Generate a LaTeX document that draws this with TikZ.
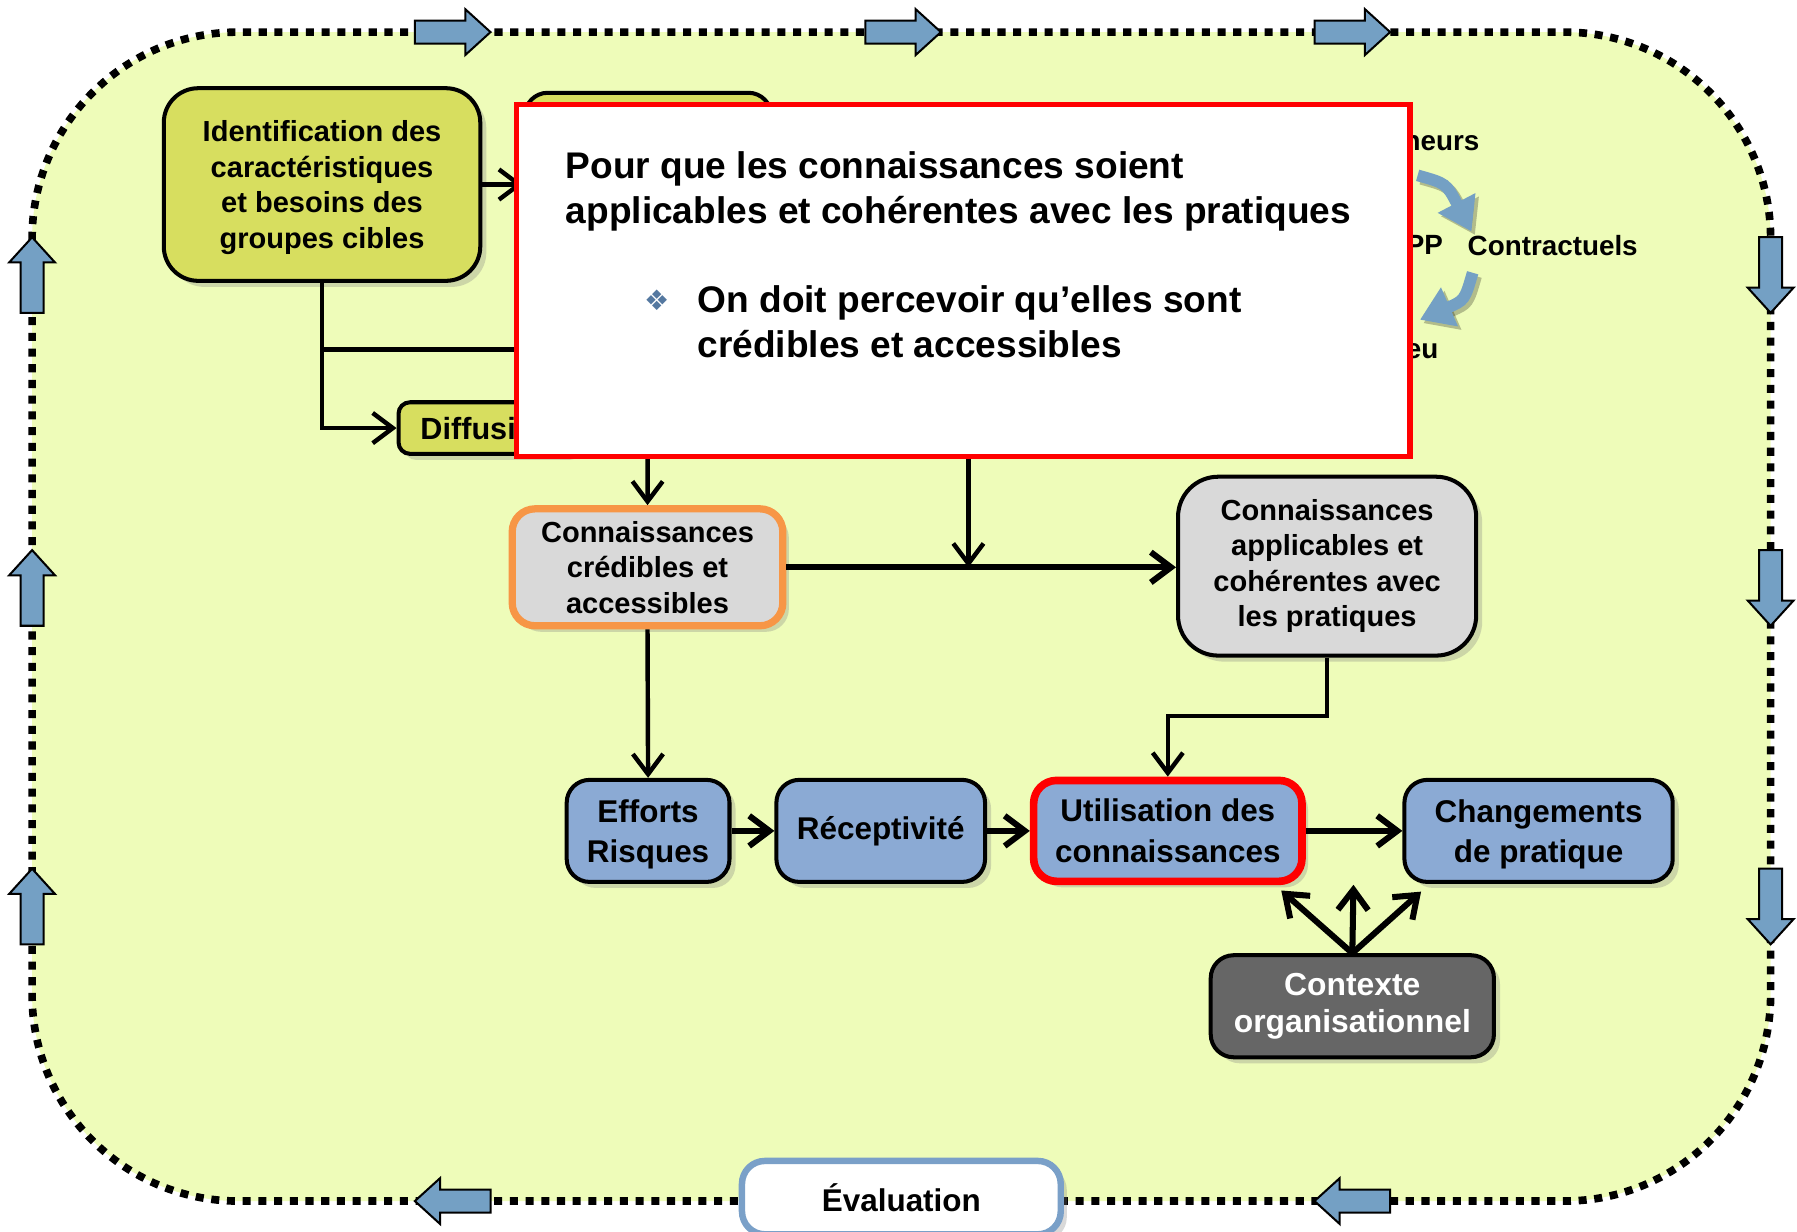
\documentclass[tikz,border=0pt]{standalone}
\usepackage{fontspec}
\setmainfont{Liberation Sans}
\newfontfamily\symfont{DejaVu Sans}
\usetikzlibrary{arrows.meta,shadows}
\definecolor{bgyellow}{RGB}{238,252,185}
\definecolor{identyellow}{RGB}{215,222,95}
\definecolor{boxblue}{RGB}{139,170,212}
\definecolor{arrowblue}{RGB}{116,160,196}
\definecolor{boxgray}{RGB}{217,217,217}
\definecolor{darkbox}{RGB}{102,102,102}
\definecolor{credorange}{RGB}{247,150,70}
\definecolor{evalblue}{RGB}{122,160,200}
\definecolor{bulletblue}{RGB}{84,120,160}
\tikzset{
  box/.style={draw=black, line width=1pt, rounded corners=0.2cm, align=center, inner sep=0pt,
    drop shadow={opacity=0.3, shadow xshift=1.5pt, shadow yshift=-1.5pt}},
  boxtext/.style={font=\bfseries\fontsize{7.2}{8.8}\selectfont},
  bigtext/.style={font=\bfseries\fontsize{7.8}{10}\selectfont},
  sidetext/.style={font=\bfseries\fontsize{6.9}{8}\selectfont, inner sep=0pt, anchor=west},
  poptext/.style={font=\bfseries\fontsize{9.2}{11.1}\selectfont, inner sep=0pt, anchor=west, align=left},
  line/.style={line width=1.1pt},
  conn/.style={line width=1.1pt, -{Straight Barb[length=5pt,width=7.5pt]}},
  conn2/.style={line width=1.5pt, -{Straight Barb[length=5pt,width=7.5pt]}},
  curvearrow/.style={line width=2.9pt, arrowblue, -{Triangle[length=8pt,width=10pt]}}
}
\begin{document}
\begin{tikzpicture}[x=0.01cm, y=-0.01cm]
\useasboundingbox (0,0) rectangle (1568,1075);
\filldraw[fill=bgyellow, draw=black, line width=1.9pt, dash pattern=on 2pt off 1.9pt, rounded corners=1.8cm] (28,28) rectangle (1545,1048);
\foreach \x/\y/\a in {395/28/0, 788/28/0, 1180/28/0, 1545/240/-90, 1545/513/-90, 1545/791/-90, 1180/1048/180, 395/1048/180, 28/240/90, 28/513/90, 28/791/90}
  \filldraw[fill=arrowblue, draw=black, line width=0.5pt, shift={(\x,\y)}, rotate=\a] (-33,-10) -- (11,-10) -- (11,-20) -- (33,0) -- (11,20) -- (11,10) -- (-33,10) -- cycle;

\node[sidetext] (neurs) at (1224,125) {neurs};
\node[sidetext] (pp) at (1226,214) {PP};
\node[sidetext] (contr) at (1280,214) {Contractuels};
\node[sidetext] (eu) at (1226,306) {eu};
\draw[curvearrow, black, opacity=0.25, shift={(3,3)}] (1237,153) .. controls (1262,160) .. (1284,202);
\draw[curvearrow, black, opacity=0.25, shift={(3,3)}] (1285,238) .. controls (1278,262) .. (1239,279);
\draw[curvearrow] (1237,153) .. controls (1262,160) .. (1284,202);
\draw[curvearrow] (1285,238) .. controls (1278,262) .. (1239,279);

\node[box, fill=identyellow, minimum width=2.15cm, minimum height=1.6cm] (hid2) at (565.5,161) {};
\node[box, fill=boxgray, minimum width=2.8cm, minimum height=0.7cm] (hid3) at (845,360) {};
\node[box, fill=identyellow, boxtext, minimum width=2.76cm, minimum height=1.68cm, rounded corners=0.3cm, text depth=0pt] (ident) at (281,161) {Identification des\\caractéristiques\\et besoins des\\groupes cibles};
\node[box, fill=identyellow, font=\bfseries\fontsize{7.6}{9}\selectfont, minimum width=1.54cm, minimum height=0.45cm, rounded corners=0.1cm, anchor=west] (diff) at (346,373.5) {Diffusion};
\node[box, fill=boxgray, draw=credorange, line width=1.8pt, boxtext, minimum width=2.36cm, minimum height=1.02cm] (cred) at (565,495) {Connaissances\\crédibles et\\accessibles};
\node[box, fill=boxgray, boxtext, minimum width=2.6cm, minimum height=1.56cm, rounded corners=0.35cm] (appl) at (1158,494) {Connaissances\\applicables et\\cohérentes avec\\les pratiques};
\node[box, fill=boxblue, bigtext, minimum width=1.42cm, minimum height=0.89cm, text depth=0pt] (effo) at (565.5,725) {Efforts\\Risques};
\node[box, fill=boxblue, bigtext, minimum width=1.82cm, minimum height=0.89cm] (recep) at (768.5,725) {Réceptivité};
\node[box, fill=boxblue, draw=red, line width=1.9pt, bigtext, minimum width=2.34cm, minimum height=0.88cm] (util) at (1019,725) {Utilisation des\\connaissances};
\node[box, fill=boxblue, bigtext, minimum width=2.34cm, minimum height=0.89cm, text depth=0pt] (chang) at (1342.5,725) {Changements\\de pratique};
\node[box, fill=darkbox, text=white, font=\bfseries\fontsize{7.9}{9.4}\selectfont, minimum width=2.47cm, minimum height=0.89cm] (ctx) at (1180,878) {Contexte\\organisationnel};
\node[box, fill=white, draw=evalblue, line width=1.6pt, bigtext, minimum width=2.78cm, minimum height=0.64cm] (eval) at (786.5,1045) {Évaluation};

\coordinate (branch) at (281,305);
\coordinate (ctxl) at (1118,777);
\coordinate (ctxm) at (1181,772);
\coordinate (ctxr) at (1240,778);
\draw[conn] (ident.east) -- (hid2.west);
\draw[conn] (ident.south) |- (diff.west);
\draw[line] (branch) -- ++(190,0);
\draw[conn] (hid2.south) -- (cred.north);
\draw[conn] (hid3.south) -- (hid3.south |- cred.east);
\draw[conn2] (cred.east) -- (appl.west |- cred.east);
\draw[conn] (cred.south) -- (effo.north);
\draw[conn] (appl.south) -- ++(0,51) -| (util.north);
\draw[conn2] (effo.east) -- (recep.west);
\draw[conn2] (recep.east) -- (util.west);
\draw[conn2] (util.east) -- (chang.west);
\draw[conn2] (ctx.north) -- (ctxl);
\draw[conn2] (ctx.north) -- (ctxm);
\draw[conn2] (ctx.north) -- (ctxr);

\node[draw=red, line width=1.3pt, fill=white, minimum width=7.79cm, minimum height=3.07cm, inner sep=0pt] (popup) at (840.5,244.5) {};
\node[poptext] (poptitle) at (493,167) {Pour que les connaissances soient\\applicables et cohérentes avec les pratiques};
\node[text=bulletblue, font=\symfont\fontsize{7}{8}\selectfont] (bullet) at (573,262) {❖};
\node[poptext] (popline) at (608,280.5) {On doit percevoir qu’elles sont\\crédibles et accessibles};
\end{tikzpicture}
\end{document}
